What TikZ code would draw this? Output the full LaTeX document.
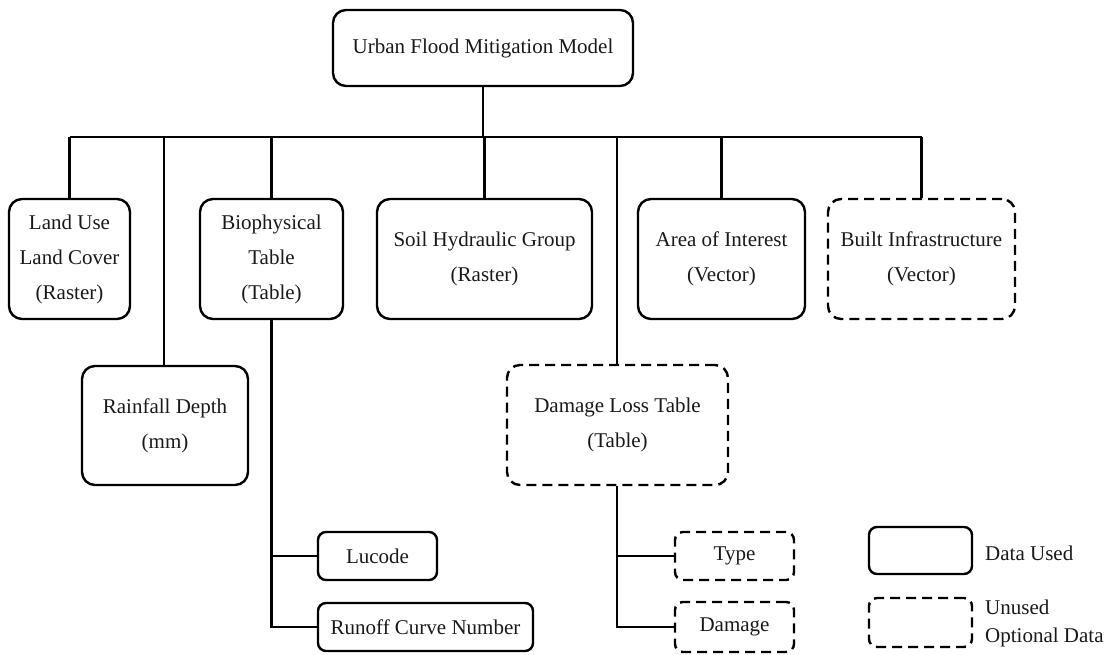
\documentclass[tikz,border=0pt]{standalone}
\usepackage{fontspec}
\setmainfont{Liberation Serif}
\begin{document}
\begin{tikzpicture}[x=1pt,y=-1pt,
  every node/.style={font=\fontsize{21}{35}\selectfont, text=black!90},
  box/.style={draw=black, line width=2.4pt, rounded corners=13pt, align=center, inner sep=0pt},
  smallbox/.style={box, rounded corners=8pt},
  optbox/.style={dash pattern=on 10pt off 6pt},
  conn/.style={draw=black, line width=2.4pt},
  lbl/.style={anchor=west, inner sep=0pt}]
\useasboundingbox (0,0) rectangle (1112,655);
% nodes
\node[box, minimum width=300, minimum height=76] (top) at (483,48) {Urban Flood Mitigation Model};
\node[box, minimum width=121, minimum height=120] (lulc) at (69.5,259) {Land Use\\Land Cover\\(Raster)};
\node[box, minimum width=166, minimum height=119] (rain) at (165,425.5) {Rainfall Depth\\(mm)};
\node[box, minimum width=143, minimum height=120] (bio) at (271.5,259) {Biophysical\\Table\\(Table)};
\node[box, minimum width=215, minimum height=120] (soil) at (484.5,259) {Soil Hydraulic Group\\(Raster)};
\node[box, optbox, minimum width=221, minimum height=120] (dlt) at (617.5,425) {Damage Loss Table\\(Table)};
\node[box, minimum width=167, minimum height=120] (aoi) at (721.5,259) {Area of Interest\\(Vector)};
\node[box, optbox, minimum width=187, minimum height=120] (bi) at (921.5,259) {Built Infrastructure\\(Vector)};
\node[smallbox, minimum width=119, minimum height=48] (luc) at (377.5,556) {Lucode};
\node[smallbox, minimum width=215, minimum height=48] (rcn) at (425.5,627) {Runoff Curve Number};
\node[smallbox, optbox, minimum width=119, minimum height=48] (type) at (734.5,556) {Type};
\node[smallbox, optbox, minimum width=119, minimum height=50] (dmg) at (734.5,627) {Damage};
% legend
\node[smallbox, minimum width=103, minimum height=47] (legu) at (920.5,550.5) {};
\node[smallbox, optbox, minimum width=103, minimum height=49] (lego) at (920.5,622.5) {};
\node[lbl] (legut) at (985,553) {Data Used};
\node[lbl] (legot1) at (985,607) {Unused};
\node[lbl] (legot2) at (985,637) {Optional Data};
% bus
\coordinate (bus) at (483,137);
\coordinate (rainx) at (164,137);
\coordinate (dltx) at (617,137);
\draw[conn] (top.south) -- (bus);
\draw[conn] (lulc.north |- bus) -- (bi.north |- bus);
\draw[conn] (lulc.north |- bus) -- (lulc.north);
\draw[conn] (rainx) -- (rainx |- rain.north);
\draw[conn] (bio.north |- bus) -- (bio.north);
\draw[conn] (soil.north |- bus) -- (soil.north);
\draw[conn] (dltx) -- (dltx |- dlt.north);
\draw[conn] (aoi.north |- bus) -- (aoi.north);
\draw[conn] (bi.north |- bus) -- (bi.north);
% sub branches
\draw[conn] (bio.south) |- (rcn.west);
\draw[conn] (bio.south |- luc.west) -- (luc.west);
\draw[conn] (dltx |- dlt.south) |- (dmg.west);
\draw[conn] (dltx |- type.west) -- (type.west);
\end{tikzpicture}
\end{document}
